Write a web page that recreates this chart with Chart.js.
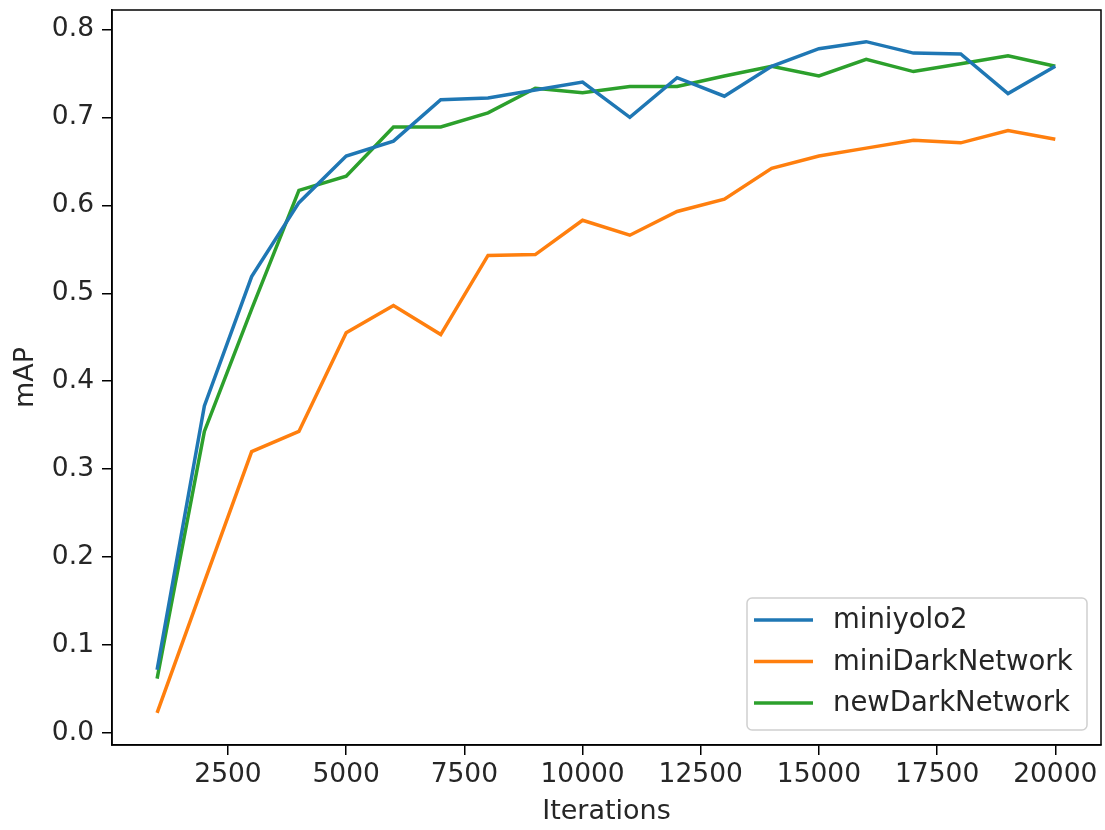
<!DOCTYPE html>
<html>
<head>
<meta charset="utf-8">
<script src="https://cdn.jsdelivr.net/npm/chart.js@4.4.1/dist/chart.umd.min.js"></script>
<style>
  html, body { margin: 0; padding: 0; background: #fff; }
  #wrap { width: 1105px; height: 830px; }
</style>
</head>
<body>
<div id="wrap"><canvas id="mapChart" width="1105" height="830"></canvas></div>
<script>
const iterations = [1000, 2000, 3000, 4000, 5000, 6000, 7000, 8000, 9000, 10000,
  11000, 12000, 13000, 14000, 15000, 16000, 17000, 18000, 19000, 20000];

const miniyolo2 = [0.072, 0.372, 0.519, 0.603, 0.656, 0.673, 0.720, 0.722, 0.731, 0.740,
  0.700, 0.745, 0.724, 0.758, 0.778, 0.786, 0.773, 0.772, 0.727, 0.758];

const miniDarkNetwork = [0.023, 0.172, 0.320, 0.343, 0.455, 0.486, 0.453, 0.543, 0.544, 0.583,
  0.566, 0.593, 0.607, 0.642, 0.656, 0.665, 0.674, 0.671, 0.685, 0.675];

const newDarkNetwork = [0.062, 0.343, 0.482, 0.617, 0.633, 0.689, 0.689, 0.705, 0.733, 0.728,
  0.735, 0.735, 0.747, 0.758, 0.747, 0.766, 0.752, 0.761, 0.770, 0.758];

const xTicks = [2500, 5000, 7500, 10000, 12500, 15000, 17500, 20000];
const yTicks = [0.0, 0.1, 0.2, 0.3, 0.4, 0.5, 0.6, 0.7, 0.8];

const FONT = "'DejaVu Sans', sans-serif";

function toPoints(values) {
  return values.map((v, i) => ({ x: iterations[i], y: v }));
}

// top/right spines of the axes box
const frame = {
  id: 'frame',
  afterDatasetsDraw(chart) {
    const { ctx, chartArea: a } = chart;
    ctx.save();
    ctx.strokeStyle = '#000';
    ctx.lineWidth = 1.5;
    ctx.strokeRect(a.left, a.top, a.right - a.left, a.bottom - a.top);
    ctx.restore();
  }
};

// legend box in the lower right corner, like matplotlib's
const boxLegend = {
  id: 'boxLegend',
  afterDatasetsDraw(chart) {
    const ctx = chart.ctx;
    const a = chart.chartArea;
    const w = 340, h = 132;
    const x = a.right - 14 - w;
    const y = a.bottom - 15 - h;
    ctx.save();
    ctx.beginPath();
    ctx.roundRect(x, y, w, h, 5);
    ctx.fillStyle = 'rgba(255,255,255,0.8)';
    ctx.fill();
    ctx.strokeStyle = '#d0d0d0';
    ctx.lineWidth = 1.5;
    ctx.stroke();
    ctx.font = '27.5px ' + FONT;
    ctx.textBaseline = 'middle';
    chart.data.datasets.forEach((ds, i) => {
      const ry = y + 22 + i * 41.5;
      ctx.strokeStyle = ds.borderColor;
      ctx.lineWidth = 3.5;
      ctx.beginPath();
      ctx.moveTo(x + 7, ry);
      ctx.lineTo(x + 66, ry);
      ctx.stroke();
      ctx.fillStyle = '#262626';
      ctx.fillText(ds.label, x + 86, ry + 1);
    });
    ctx.restore();
  }
};

const ctx = document.getElementById('mapChart');

new Chart(ctx, {
  type: 'line',
  data: {
    datasets: [
      { label: 'miniyolo2', data: toPoints(miniyolo2), borderColor: '#1f77b4' },
      { label: 'miniDarkNetwork', data: toPoints(miniDarkNetwork), borderColor: '#ff7f0e' },
      { label: 'newDarkNetwork', data: toPoints(newDarkNetwork), borderColor: '#2ca02c' }
    ]
  },
  options: {
    responsive: false,
    animation: false,
    events: [],
    layout: { padding: { top: 10, right: 4, left: 0, bottom: 0 } },
    elements: {
      line: { borderWidth: 3.5, tension: 0, fill: false },
      point: { radius: 0 }
    },
    plugins: {
      legend: { display: false },
      tooltip: { enabled: false }
    },
    scales: {
      x: {
        type: 'linear',
        min: 46,
        max: 20967,
        afterBuildTicks: (scale) => { scale.ticks = xTicks.map(v => ({ value: v })); },
        afterFit: (scale) => {
          scale.height = 85;
          scale.paddingLeft = 0;
          scale.paddingRight = 0;
        },
        ticks: {
          color: '#262626',
          font: { family: FONT, size: 26.5 },
          padding: 4,
          maxRotation: 0,
          callback: (v) => String(v)
        },
        grid: { drawOnChartArea: false, drawTicks: true, tickLength: 10, color: '#000', lineWidth: 1.5 },
        border: { display: true, color: '#000', width: 1.5 },
        title: {
          display: true,
          text: 'Iterations',
          color: '#262626',
          font: { family: FONT, size: 27 },
          padding: { top: 0, bottom: 2 }
        }
      },
      y: {
        min: -0.0135,
        max: 0.822,
        afterBuildTicks: (scale) => { scale.ticks = yTicks.map(v => ({ value: v })); },
        afterFit: (scale) => {
          scale.width = 112;
          scale.paddingTop = 0;
          scale.paddingBottom = 0;
        },
        ticks: {
          color: '#262626',
          font: { family: FONT, size: 26.5 },
          padding: 8,
          callback: (v) => v.toFixed(1)
        },
        grid: { drawOnChartArea: false, drawTicks: true, tickLength: 10, color: '#000', lineWidth: 1.5 },
        border: { display: true, color: '#000', width: 1.5 },
        title: {
          display: true,
          text: 'mAP',
          color: '#262626',
          font: { family: FONT, size: 27 },
          padding: { top: 10, bottom: 0 }
        }
      }
    }
  },
  plugins: [frame, boxLegend]
});
</script>
</body>
</html>
